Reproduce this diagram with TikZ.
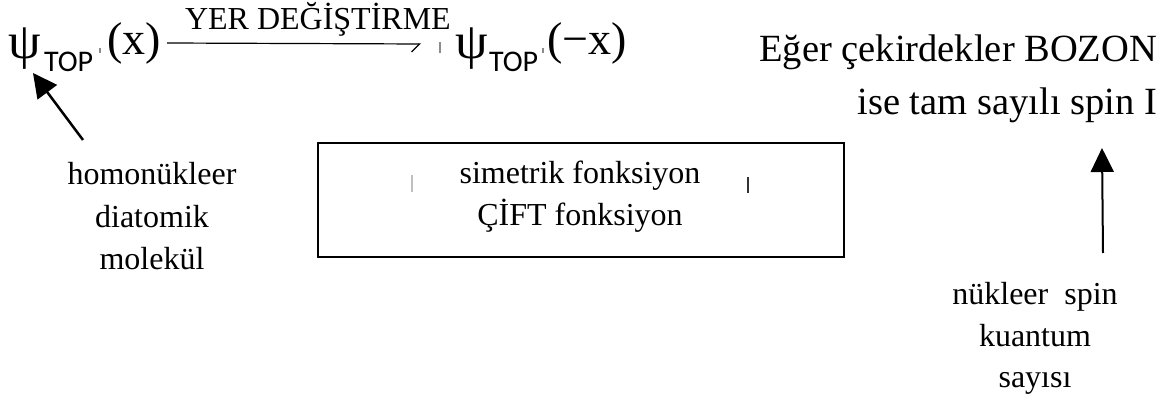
\documentclass[tikz,border=0pt]{standalone}
\usepackage{fontspec}
\setmainfont{Liberation Serif}
\newfontfamily\calfont{Carlito}
\usetikzlibrary{arrows.meta}
\tikzset{
  txt/.style={inner sep=0pt, outer sep=0pt},
  small/.style={txt, font=\fontsize{32}{42.5}\selectfont, align=center},
  big/.style={txt, font=\fontsize{38.5}{53}\selectfont, align=right},
  psif/.style={txt, font=\fontsize{51}{51}\selectfont},
  argf/.style={txt, font=\fontsize{46}{46}\selectfont},
  subf/.style={txt, font=\calfont\fontsize{30}{30}\selectfont},
  fatarrow/.style={-{Triangle[length=24pt,width=24pt]}, line width=2.5pt},
  thinarrow/.style={-{Triangle[length=24pt,width=23pt]}, line width=2pt},
  tick/.style={line width=1.2pt, black!45},
}
\begin{document}
\begin{tikzpicture}[x=1pt,y=-1pt]
\useasboundingbox (0,0) rectangle (1176,403);
% left wave function
\node[psif, anchor=base west] (psi1) at (9,59) {\scalebox{1.02}[1]{ψ}};
\node[subf, anchor=base west] (top1) at (44,72) {TOP};
\node[argf, anchor=base west] (arg1) at (107,55) {(x)};
% right wave function
\node[psif, anchor=base west] (psi2) at (455,59) {\scalebox{1.02}[1]{ψ}};
\node[subf, anchor=base west] (top2) at (489,72) {TOP};
\node[argf, anchor=base west] (arg2) at (547,55) {(−x)};
% exchange arrow
\node[small, anchor=base west] (lab) at (185,30) {YER DEĞİŞTİRME};
\coordinate (aS) at (167,43);
\coordinate (aE) at (421,44);
\draw[line width=1.2pt, -{Straight Barb[harpoon,swap,length=8pt]}] (aS) -- (aE);
% stray marks
\draw[tick] (100,48) -- (100,53);
\draw[tick] (440,42) -- (440,53);
\draw[tick] (543,48) -- (543,53);
\draw[tick, black!25] (412,175) -- (412,192);
\draw[tick, black!80] (748,177) -- (748,193);
% box
\node[draw, line width=1.5pt, minimum width=526pt, minimum height=114pt, inner sep=0pt] (box) at (581,200) {};
\node[small, anchor=base] (boxtxt) at (580,226) {simetrik fonksiyon\\ÇİFT fonksiyon};
% right statement
\node[big, anchor=base east] (bozon) at (1157,115) {Eğer çekirdekler BOZON\\ise tam sayılı spin I};
% left label and arrow
\node[small, anchor=base] (homo) at (152,270) {homonükleer\\diatomik\\molekül};
\coordinate (hS) at (83,140);
\coordinate (hE) at (33,73);
\draw[fatarrow] (hS) -- (hE);
% right label and arrow
\node[small, anchor=base, font=\fontsize{32}{41.5}\selectfont] (nuk) at (1035,388) {nükleer\ \ spin\\kuantum\\sayısı};
\coordinate (nS) at (1103,253);
\coordinate (nE) at (1102,148);
\draw[thinarrow] (nS) -- (nE);
\end{tikzpicture}
\end{document}
